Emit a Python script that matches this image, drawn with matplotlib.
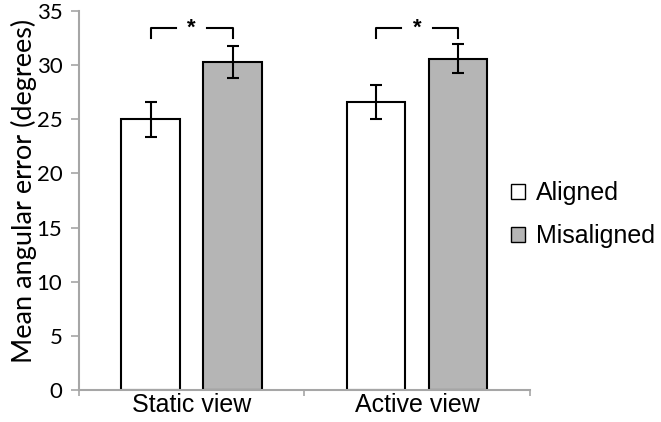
import numpy as np
import matplotlib.pyplot as plt
from matplotlib.patches import Patch

categories = ["Static view", "Active view"]
aligned = [25.0, 26.6]
aligned_err = [1.6, 1.55]
misaligned = [30.3, 30.6]
misaligned_err = [1.45, 1.35]
yticks = [0, 5, 10, 15, 20, 25, 30, 35]

fig = plt.figure(figsize=(6.61, 4.22), dpi=100)
ax = fig.add_axes([0.1195, 0.0758, 0.682, 0.898])

x = np.arange(len(categories))
w = 0.26
off = 0.182
axis_col = "#a6a6a6"

ax.bar(x - off, aligned, w, color="white", edgecolor="black", linewidth=1.5, zorder=2)
ax.bar(x + off, misaligned, w, color="#b5b5b5", edgecolor="black", linewidth=1.5, zorder=2)
ax.errorbar(x - off, aligned, yerr=aligned_err, fmt="none", ecolor="black",
            elinewidth=1.5, capsize=4.5, capthick=1.5, zorder=3)
ax.errorbar(x + off, misaligned, yerr=misaligned_err, fmt="none", ecolor="black",
            elinewidth=1.5, capsize=4.5, capthick=1.5, zorder=3)

# significance brackets
for i in x:
    x0, x1 = i - off, i + off
    ax.plot([x0, x0, i - 0.07], [32.5, 33.4, 33.4], color="black", lw=1.5)
    ax.plot([i + 0.07, x1, x1], [33.4, 33.4, 32.5], color="black", lw=1.5)
    ax.text(i, 33.45, "*", ha="center", va="center", fontsize=16,
            fontweight="bold", family="Liberation Sans")

ax.set_xlim(-0.5, 1.5)
ax.set_ylim(0, 35)
ax.set_yticks(yticks)
ax.set_yticklabels([str(t) for t in yticks], family="Lato", fontsize=16)
ax.set_xticks([-0.5, 0.5, 1.5], minor=False)
ax.set_xticklabels([])
ax.set_xticks(x, minor=True)
ax.set_xticklabels(categories, minor=True, family="Liberation Sans", fontsize=18)
ax.tick_params(axis="x", which="minor", length=0, pad=2)
ax.tick_params(axis="x", which="major", length=4, color=axis_col, width=1.2)
ax.tick_params(axis="y", length=6, color=axis_col, width=1.2, pad=6)

for s in ["top", "right"]:
    ax.spines[s].set_visible(False)
for s in ["left", "bottom"]:
    ax.spines[s].set_color(axis_col)
    ax.spines[s].set_linewidth(1.5)

ax.set_ylabel("Mean angular error (degrees)", family="Lato", fontsize=19.5)
ax.yaxis.set_label_coords(-0.094, 0.525)

handles = [Patch(facecolor="white", edgecolor="black", linewidth=1.0, label="Aligned"),
           Patch(facecolor="#b5b5b5", edgecolor="black", linewidth=1.0, label="Misaligned")]
fig.legend(handles=handles, loc="center left", bbox_to_anchor=(0.773, 0.491),
           frameon=False, prop={"family": "Liberation Sans", "size": 18}, borderpad=0,
           borderaxespad=0, handlelength=0.55, handleheight=0.55, handletextpad=0.45,
           labelspacing=0.75)

fig.savefig("out.png", dpi=100)
